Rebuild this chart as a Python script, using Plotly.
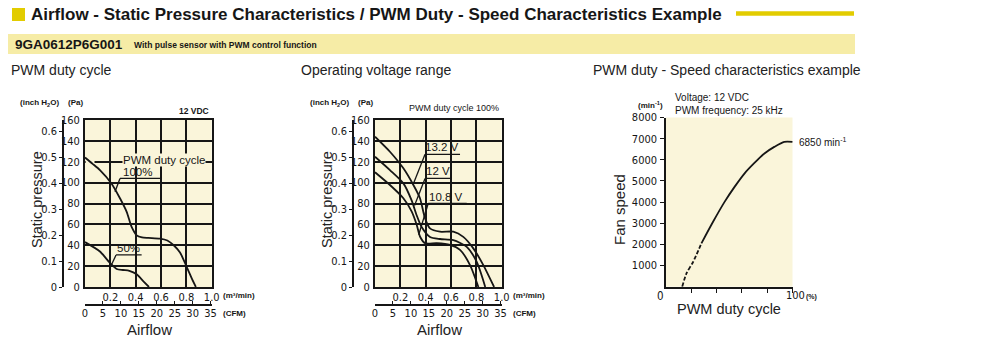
import plotly.graph_objects as go

# the page body has an 8 px margin: the figure starts at page pixel (8, 8)
OFF = 8
W, H = 1000 - OFF, 356 - OFF
def px(x): return (x - OFF) / W
def py(y): return 1 - (y - OFF) / H

# ---------------- data ----------------
# Chart 1: PWM duty cycle (12 VDC) airflow (m3/min) vs static pressure (Pa)
pwm100_flow = [0, 0.06, 0.118, 0.21, 0.276, 0.329, 0.368, 0.408, 0.45, 0.5, 0.592, 0.65, 0.7, 0.75, 0.8, 0.84, 0.875]
pwm100_pa = [124, 118, 112, 99, 85, 72, 57.5, 49.5, 47.5, 47, 46.3, 44.5, 40, 33, 20, 9, 0]
pwm50_flow = [0, 0.118, 0.197, 0.25, 0.3, 0.35, 0.408, 0.461, 0.505]
pwm50_pa = [43, 34, 23, 17.3, 16.3, 15.5, 12.2, 5.5, 0]

# Chart 2: operating voltage range (PWM duty 100%)
v132_flow = [0, 0.118, 0.224, 0.303, 0.355, 0.395, 0.434, 0.513, 0.618, 0.697, 0.776, 0.855, 0.94]
v132_pa = [144, 129.6, 113.7, 97.7, 85, 65.8, 56.2, 53, 53, 48, 37, 21, 0]
v120_flow = [0, 0.118, 0.224, 0.289, 0.329, 0.368, 0.434, 0.513, 0.618, 0.724, 0.803, 0.87]
v120_pa = [124.8, 112, 99.3, 83, 68.7, 57.5, 48, 46, 44.9, 38.5, 24, 0]
v108_flow = [0, 0.118, 0.224, 0.289, 0.329, 0.355, 0.395, 0.487, 0.592, 0.671, 0.75, 0.816]
v108_pa = [109.9, 97.7, 85, 72.4, 59.6, 48.4, 42, 42, 40.4, 35.6, 21, 0]

# Chart 3: PWM duty (%) vs fan speed (min-1)
duty_dashed = [12.8, 16.2, 21.5, 28.0]
speed_dashed = [0, 630, 1180, 2050]
duty_solid = [28.0, 37.2, 46.3, 54.2, 62.0, 69.9, 77.8, 85.6, 93.5, 100]
speed_solid = [2050, 3070, 4010, 4720, 5350, 5850, 6300, 6610, 6850, 6850]

pa_ticks = [0, 20, 40, 60, 80, 100, 120, 140, 160]
inch_ticks = [0, 0.1, 0.2, 0.3, 0.4, 0.5, 0.6]
inch_labels = ["0", "0.1", "0.2", "0.3", "0.4", "0.5", "0.6"]
flow_ticks = [0.2, 0.4, 0.6, 0.8, 1.0]
flow_labels = ["0.2", "0.4", "0.6", "0.8", "1.0"]
cfm_ticks = [0, 5, 10, 15, 20, 25, 30, 35]
speed_ticks = [1000, 2000, 3000, 4000, 5000, 6000, 7000, 8000]
duty_ticks = [20, 40, 60, 80, 100]

PA_PER_INCH = 249.089
CFM_PER_M3MIN = 35.3147

# curve labels: (text, text x, text y, underline x0, x1, y, leader from x, from y)
labels1 = [
    ("100%", 0.414, 102.5, 0.276, 0.605, 104, 0.237, 91.3),
    ("50%", 0.342, 29.5, 0.245, 0.447, 30.7, 0.21, 21.5),
]
labels2 = [
    ("13.2 V", 0.531, 126, 0.395, 0.671, 127.1, 0.300, 98),
    ("12 V", 0.50, 103, 0.395, 0.605, 104, 0.312, 78),
    ("10.8 V", 0.559, 79, 0.42, 0.724, 80, 0.345, 50),
]

BG = "#FAF5DA"
INK = "#161616"
NARROW = "DejaVu Sans Condensed, Liberation Sans Narrow, Arial Narrow, Liberation Sans, sans-serif"
SANS = "Liberation Sans, Arial, sans-serif"

fig = go.Figure()

def curve(x, y, xa, ya, dash="solid"):
    fig.add_trace(go.Scatter(x=x, y=y, xaxis=xa, yaxis=ya, mode="lines",
                             line=dict(color=INK, width=1.8, shape="spline", smoothing=0.7, dash=dash),
                             hoverinfo="skip", showlegend=False))

curve(pwm100_flow, pwm100_pa, "x", "y")
curve(pwm50_flow, pwm50_pa, "x", "y")
curve(v132_flow, v132_pa, "x3", "y3")
curve(v120_flow, v120_pa, "x3", "y3")
curve(v108_flow, v108_pa, "x3", "y3")
curve(duty_dashed, speed_dashed, "x5", "y5", dash="4px,2px")
curve(duty_solid, speed_solid, "x5", "y5")

# dummy traces so overlay axes are drawn
for xa, ya in [("x2", "y"), ("x", "y2"), ("x4", "y3"), ("x3", "y4")]:
    fig.add_trace(go.Scatter(x=[None], y=[None], xaxis=xa, yaxis=ya, showlegend=False, hoverinfo="skip"))

c1 = [px(85), px(211.7)]
c2 = [px(375), px(501.7)]
ydom = [py(287), py(120)]

TICKF = dict(family=NARROW, size=11, color=INK)

def main_x(dom, anchor):
    return dict(domain=dom, anchor=anchor, range=[0, 1], tickvals=flow_ticks, ticktext=flow_labels,
                showgrid=True, gridcolor=INK, gridwidth=1.5, showline=True, mirror=True,
                linecolor=INK, linewidth=2, ticks="", zeroline=False, automargin=False,
                ticklabelstandoff=-1, tickfont=TICKF)

def main_y(anchor):
    return dict(domain=ydom, anchor=anchor, range=[0, 160], tickvals=pa_ticks,
                showgrid=True, gridcolor=INK, gridwidth=1.5, showline=True, mirror=True,
                linecolor=INK, linewidth=2, ticks="", zeroline=False, ticklabelstandoff=1,
                automargin=False, tickfont=TICKF)

def inch_y(over, pos):
    return dict(overlaying=over, anchor="free", position=pos, side="left",
                range=[0, 160 / PA_PER_INCH], tickvals=inch_ticks, ticktext=inch_labels,
                showgrid=False, zeroline=False, showline=True, linecolor=INK, linewidth=1.5,
                ticks="outside", ticklen=3, tickcolor=INK, ticklabelstandoff=0,
                automargin=False, tickfont=TICKF)

def cfm_x(over):
    return dict(overlaying=over, anchor="free", position=py(305), side="bottom",
                range=[0, CFM_PER_M3MIN], tickvals=cfm_ticks,
                showgrid=False, zeroline=False, showline=True, linecolor=INK, linewidth=1.5,
                ticks="inside", ticklen=3, tickcolor=INK, ticklabelstandoff=-2,
                automargin=False, tickfont=TICKF)

fig.update_layout(
    width=W, height=H, margin=dict(l=0, r=0, t=0, b=0, pad=0, autoexpand=False),
    paper_bgcolor="white", plot_bgcolor=BG, showlegend=False,
    xaxis=main_x(c1, "y"), yaxis=main_y("x"),
    xaxis2=cfm_x("x"), yaxis2=inch_y("y", px(63)),
    xaxis3=main_x(c2, "y3"), yaxis3=main_y("x3"),
    xaxis4=cfm_x("x3"), yaxis4=inch_y("y3", px(353)),
    xaxis5=dict(domain=[px(666), px(792.5)], anchor="y5", range=[0, 100], tickvals=duty_ticks,
                showticklabels=False, ticks="outside", ticklen=5, tickcolor=INK, tickwidth=1.2,
                showgrid=False, zeroline=False, showline=True, linecolor=INK, linewidth=1.5,
                automargin=False),
    yaxis5=dict(domain=[py(286.7), py(117.5)], anchor="x5", range=[0, 8000], tickvals=speed_ticks,
                ticks="outside", ticklen=4, tickcolor=INK, tickwidth=1.2, ticklabelstandoff=1,
                showgrid=False, zeroline=False, showline=True, linecolor=INK, linewidth=1.5,
                automargin=False, tickfont=TICKF),
)

shapes = []
ann = []

def text(x, y, s, size, xanchor="left", bold=False, family=SANS, color=INK, xref="paper", yref="paper",
         yanchor="middle", angle=0, bg=None):
    if bold:
        s = "<b>" + s + "</b>"
    if xref == "paper":
        x = px(x)
    if yref == "paper":
        y = py(y)
    d = dict(x=x, y=y, xref=xref, yref=yref, text=s, showarrow=False, xanchor=xanchor, yanchor=yanchor,
             font=dict(family=family, size=size, color=color), textangle=angle)
    if bg:
        d.update(bgcolor=bg, borderpad=0)
    ann.append(d)

# header
shapes.append(dict(type="rect", xref="paper", yref="paper", x0=px(12), x1=px(25), y0=py(21), y1=py(8),
                   fillcolor="#E2CC00", line=dict(width=0)))
shapes.append(dict(type="line", xref="paper", yref="paper", x0=px(736), x1=px(854), y0=py(13.5), y1=py(13.5),
                   line=dict(color="#E2CC00", width=4.5)))
shapes.append(dict(type="rect", xref="paper", yref="paper", x0=px(8), x1=px(855), y0=py(54), y1=py(34),
                   fillcolor="#F6ECA6", line=dict(width=0)))
text(29, 14.5, "Airflow - Static Pressure Characteristics / PWM Duty - Speed Characteristics Example", 17, bold=True)
text(13, 44.5, "9GA0612P6G001", 13.5, bold=True)
text(132, 45, "With pulse sensor with PWM control function", 8.5, bold=True)

# subtitles
text(9, 69.5, "PWM duty cycle", 14, color="#222")
text(299, 69.5, "Operating voltage range", 14, color="#222")
text(591, 69.5, "PWM duty - Speed characteristics example", 14, color="#222")

# chart 1 & 2 decorations
for off in (0, 290):
    text(39 + off, 103, "(inch H<sub>2</sub>O)", 8, xanchor="center", bold=True)
    text(75 + off, 103, "(Pa)", 8, xanchor="center", bold=True)
    text(37 + off, 200, "Static pressure", 14.5, xanchor="center", angle=-90, color="#222")
    text(149 + off, 329.5, "Airflow", 15, xanchor="center", color="#222")
    text(221 + off, 295.5, "(m³/min)", 8, bold=True)
    text(221 + off, 313, "(CFM)", 8, bold=True)
text(211, 111, "12 VDC", 8.5, xanchor="right", bold=True)
text(501, 108, "PWM duty cycle 100%", 9, xanchor="right")

# hide a piece of the 120 Pa grid line (as in the reference)
shapes.append(dict(type="rect", xref="x", yref="y", x0=0.005, x1=0.075, y0=117.5, y1=122.5,
                   fillcolor=BG, line=dict(width=0), layer="between"))
text(0.29, 121.7, "PWM duty cycle", 11.5, xref="x", yref="y", bg=BG)

def leaders(labels, xr, yr):
    for (s, tx, ty, ux0, ux1, uy, lx, ly) in labels:
        shapes.append(dict(type="line", xref=xr, yref=yr, x0=ux0, x1=ux1, y0=uy, y1=uy,
                           line=dict(color=INK, width=1.3)))
        shapes.append(dict(type="line", xref=xr, yref=yr, x0=lx, x1=ux0, y0=ly, y1=uy,
                           line=dict(color=INK, width=1.3)))
        text(tx, ty, s, 11.5, xanchor="center", xref=xr, yref=yr, yanchor="bottom")

leaders(labels1, "x", "y")
leaders(labels2, "x3", "y3")

# chart 3 decorations
text(650, 105.5, "(min<sup>-1</sup>)", 8, xanchor="center", bold=True)
text(673, 98, "Voltage: 12 VDC", 10)
text(673, 110.5, "PWM frequency: 25 kHz", 10)
text(619, 210, "Fan speed", 15, xanchor="center", angle=-90, color="#222")
text(729, 309, "PWM duty cycle", 14.5, xanchor="center", color="#222")
text(660, 295.5, "0", 11.5, xanchor="center", family=NARROW)
text(784, 295.5, "100", 11, family=NARROW)
text(804, 296.5, "(%)", 7, bold=True)
shapes.append(dict(type="line", xref="x5", yref="y5", x0=100, x1=102.5, y0=6850, y1=6850,
                   line=dict(color=INK, width=1.5)))
text(796.5, 141.5, "6850 min<sup>-1</sup>", 10)

fig.update_layout(shapes=shapes, annotations=ann)
fig.write_html("out.html")
